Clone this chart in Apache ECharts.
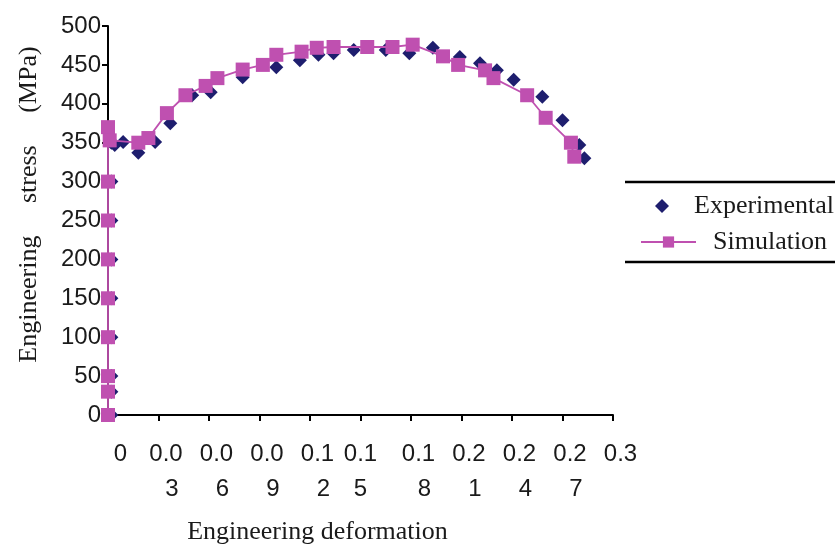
<!DOCTYPE html>
<html>
<head>
<meta charset="utf-8">
<script src="https://cdn.jsdelivr.net/npm/echarts@6/dist/echarts.min.js"></script>
<style>html,body{margin:0;padding:0;background:#fff}#c{width:835px;height:548px}</style>
</head>
<body>
<div id="c"></div>
<script>
// ---- data ----
const simStrain = [0,0,0,0,0,0,0,0,0,0.001,0.018,0.024,0.035,0.046,0.058,0.065,0.080,0.092,0.100,0.115,0.124,0.134,0.154,0.169,0.181,0.199,0.208,0.224,0.229,0.249,0.260,0.275,0.277];
const simStress = [0,30,50,100,150,200,250,300,370,353,350,356,388,411,423,433,444,450,463,467,472,473,473,473,476,461,450,443,433,411,382,350,332];
const expStrain = [0.002,0.002,0.002,0.002,0.002,0.002,0.002,0.002,0.002,0.004,0.009,0.018,0.028,0.037,0.050,0.061,0.080,0.100,0.114,0.125,0.134,0.146,0.165,0.179,0.193,0.209,0.221,0.231,0.241,0.258,0.270,0.280,0.283];
const expStress = [0,30,50,100,150,200,250,300,350,347,351,337,351,375,411,415,434,447,456,463,465,469,469,465,472,460,452,443,431,409,379,347,330];
const xTickLabels = ['0','0.0\n3','0.0\n6','0.0\n9','0.1\n2','0.1\n5','0.1\n8','0.2\n1','0.2\n4','0.2\n7','0.3'];
const seriesNames = ['Experimental','Simulation'];

const pink = '#bf50b0';
const navy = '#1e1e6e';
const txt = '#1a1a1a';

const chart = echarts.init(document.getElementById('c'));
chart.setOption({
  backgroundColor: '#fff',
  animation: false,
  grid: {left: 108, right: 222, top: 26, bottom: 133, outerBoundsMode: 'none', containLabel: false},
  xAxis: {
    type: 'value', min: 0, max: 0.3, interval: 0.03,
    name: 'Engineering deformation',
    nameLocation: 'middle', nameGap: 104,
    nameTextStyle: {fontFamily: 'Liberation Serif', fontSize: 26, color: txt, padding: [0, 86, 0, 0]},
    axisLine: {show: true, onZero: false, lineStyle: {color: '#000', width: 2}},
    axisTick: {show: true, length: 6, lineStyle: {color: '#000', width: 2}},
    splitLine: {show: false},
    axisLabel: {
      margin: 22, color: txt, fontFamily: 'Liberation Sans', fontSize: 24, lineHeight: 35,
      hideOverlap: false,
      formatter: function (v) {
        const i = Math.round(v / 0.03);
        const s = xTickLabels[i] || '';
        const parts = s.split('\n');
        if (i === 0) return '{c|' + parts[0] + '}';
        if (i === 5) return parts.map(p => '{z|' + p + '}').join('\n');
        if (parts.length === 1) return '{a|' + parts[0] + '}';
        return '{a|' + parts[0] + '}\n{b|' + parts[1] + '}';
      },
      rich: {
        a: {fontFamily: 'Liberation Sans', fontSize: 24, color: txt, lineHeight: 35, padding: [0, 0, 0, 15]},
        b: {fontFamily: 'Liberation Sans', fontSize: 24, color: txt, lineHeight: 35, padding: [0, 0, 0, 27]},
        c: {fontFamily: 'Liberation Sans', fontSize: 24, color: txt, lineHeight: 35, padding: [0, 0, 0, 25]},
        z: {fontFamily: 'Liberation Sans', fontSize: 24, color: txt, lineHeight: 35}
      }
    }
  },
  yAxis: {
    type: 'value', min: 0, max: 500, interval: 50,
    name: 'Engineering     stress     (MPa)',
    nameLocation: 'middle', nameGap: 66,
    nameTextStyle: {fontFamily: 'Liberation Serif', fontSize: 26, color: txt, padding: [0, 0, 0, 32]},
    axisLine: {show: true, lineStyle: {color: '#000', width: 2}},
    axisTick: {show: true, length: 6, lineStyle: {color: '#000', width: 2}},
    splitLine: {show: false},
    axisLabel: {margin: 7, color: txt, fontFamily: 'Liberation Sans', fontSize: 24}
  },
  legend: [
    {
      data: [seriesNames[0]], left: 650, top: 188, itemWidth: 14, itemHeight: 14, orient: 'vertical',
      textStyle: {fontFamily: 'Liberation Serif', fontSize: 26, color: txt, padding: [0, 0, 0, 20]}
    },
    {
      data: [seriesNames[1]], left: 635, top: 224, itemWidth: 55, itemHeight: 14, orient: 'vertical',
      textStyle: {fontFamily: 'Liberation Serif', fontSize: 26, color: txt, padding: [0, 0, 0, 12]}
    }
  ],
  graphic: [
    {type: 'line', shape: {x1: 625, y1: 182, x2: 835, y2: 182}, style: {stroke: '#000', lineWidth: 2.5}},
    {type: 'line', shape: {x1: 625, y1: 262, x2: 835, y2: 262}, style: {stroke: '#000', lineWidth: 2.5}}
  ],
  series: [
    {
      name: seriesNames[0], type: 'scatter', z: 2,
      symbol: 'diamond', symbolSize: 14,
      itemStyle: {color: navy, opacity: 1},
      data: expStrain.map((x, i) => [x, expStress[i]])
    },
    {
      name: seriesNames[1], type: 'line', z: 3,
      symbol: 'rect', symbolSize: 14, showSymbol: true,
      lineStyle: {color: pink, width: 1.8},
      itemStyle: {color: pink, opacity: 1},
      data: simStrain.map((x, i) => [x, simStress[i]])
    }
  ]
});
</script>
</body>
</html>
